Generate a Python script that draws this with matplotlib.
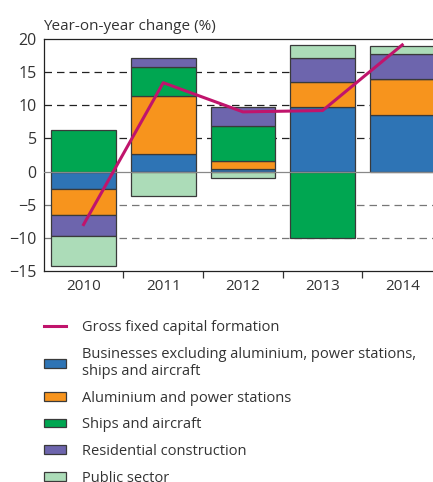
import matplotlib.pyplot as plt
import matplotlib.patches as mpatches
from matplotlib.lines import Line2D
import numpy as np

plt.rcParams['font.family'] = ['Open Sans', 'DejaVu Sans']

years = ['2010', '2011', '2012', '2013', '2014']
business = [-2.7, 2.7, 0.4, 9.8, 8.6]
aluminium = [-3.8, 8.7, 1.2, 3.7, 5.3]
ships = [6.2, 4.3, 5.3, -10.0, 0.0]
residential = [-3.2, 1.5, 2.8, 3.7, 3.8]
public = [-4.6, -3.7, -0.9, 1.9, 1.3]
gfcf = [-8.0, 13.4, 9.0, 9.2, 19.1]

series = [
    ('Businesses excluding aluminium, power stations,\nships and aircraft', business, '#2e74b5'),
    ('Aluminium and power stations', aluminium, '#f7941d'),
    ('Ships and aircraft', ships, '#00a651'),
    ('Residential construction', residential, '#6d65ad'),
    ('Public sector', public, '#acdcb8'),
]

txt = '#333333'
fig = plt.figure(figsize=(4.33, 4.82), dpi=100)
ax = fig.add_axes([0.101, 0.4378, 0.92, 0.4814])

x = np.arange(len(years))
pos = np.zeros(len(years))
neg = np.zeros(len(years))
for name, vals, col in series:
    v = np.array(vals)
    base = np.where(v >= 0, pos, neg)
    ax.bar(x, v, 0.81, bottom=base, color=col, edgecolor='#3a3a3a', linewidth=0.9, zorder=2)
    pos = pos + np.clip(v, 0, None)
    neg = neg + np.clip(v, None, 0)

ax.plot(x, gfcf, color='#c0146c', lw=2.2, zorder=4)

# grid lines
for lvl in [15, 10, 5]:
    ax.axhline(lvl, color='#222222', lw=0.9, ls=(0, (6, 4)), zorder=1)
for lvl in [-5, -10]:
    ax.axhline(lvl, color='#777777', lw=0.9, ls=(0, (6, 4)), zorder=1)
ax.axhline(0, color='#888888', lw=0.9, zorder=3)

ax.set_xlim(-0.5, 4.5)
ax.set_ylim(-15, 20)
ax.set_yticks(range(-15, 21, 5))
ax.set_xticks(x)
ax.set_xticklabels(years)
ax.set_xticks(np.arange(0.5, 4.5, 1), minor=True)
ax.tick_params(axis='y', length=0, pad=5, labelsize=11.5, labelcolor=txt)
ax.tick_params(axis='x', which='major', length=0, pad=6, labelsize=11, labelcolor=txt)
ax.tick_params(axis='x', which='minor', length=5, width=0.9, color='#333333', direction='out')
ax.spines['right'].set_visible(False)
for s in ['left', 'top', 'bottom']:
    ax.spines[s].set_color('#222222')
    ax.spines[s].set_linewidth(0.9)

fig.text(0.1, 0.945, 'Year-on-year change (%)', fontsize=11, color=txt, ha='left', va='center')

handles = [Line2D([], [], color='#c0146c', lw=2.2)]
labels = ['Gross fixed capital formation']
for name, vals, col in series:
    handles.append(mpatches.Patch(facecolor=col, edgecolor='#3a3a3a', linewidth=0.9))
    labels.append(name)
fig.legend(handles, labels, loc='upper left', bbox_to_anchor=(0.1016, 0.336), frameon=False,
           fontsize=10.5, labelcolor=txt, handlelength=1.5, handleheight=0.55,
           handletextpad=1.1, labelspacing=0.8, borderaxespad=0, borderpad=0)

fig.savefig('out.png', dpi=100)
